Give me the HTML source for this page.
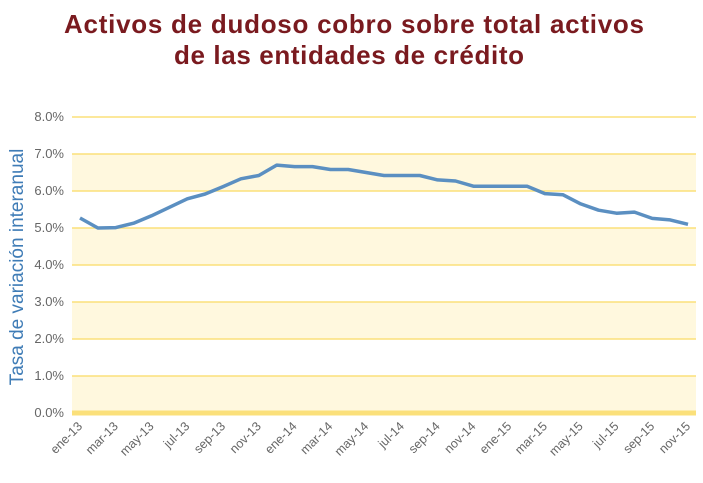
<!DOCTYPE html>
<html><head><meta charset="utf-8"><style>
body{margin:0;background:#fff;width:703px;height:478px;overflow:hidden;font-family:"Liberation Sans",sans-serif}
</style></head><body>
<svg width="703" height="478">
<text x="354" y="33" text-anchor="middle" font-size="26" font-weight="bold" fill="#7a1a1f" textLength="580">Activos de dudoso cobro sobre total activos</text>
<text x="349" y="64" text-anchor="middle" font-size="26" font-weight="bold" fill="#7a1a1f" textLength="350">de las entidades de crédito</text>
<text transform="translate(23,267) rotate(-90)" text-anchor="middle" font-size="19" fill="#3f7cb6">Tasa de variación interanual</text>
<g id="grid"></g><g id="xl"></g>
<path id="line" fill="none" stroke="#5b8fc1" stroke-width="3.5" stroke-linejoin="round"/>
</svg>
<script>
const categories=["ene-13","feb-13","mar-13","abr-13","may-13","jun-13","jul-13","ago-13","sep-13","oct-13","nov-13","dic-13","ene-14","feb-14","mar-14","abr-14","may-14","jun-14","jul-14","ago-14","sep-14","oct-14","nov-14","dic-14","ene-15","feb-15","mar-15","abr-15","may-15","jun-15","jul-15","ago-15","sep-15","oct-15","nov-15"];
const values=[5.27,5.0,5.01,5.13,5.33,5.56,5.79,5.92,6.12,6.33,6.42,6.7,6.66,6.66,6.58,6.58,6.5,6.42,6.42,6.42,6.3,6.27,6.13,6.13,6.13,6.13,5.93,5.9,5.65,5.48,5.4,5.43,5.26,5.22,5.1];
const yTicks=[0,1,2,3,4,5,6,7,8];
const NS="http://www.w3.org/2000/svg";
const x0=72,x1=696,px0=80,px1=688,y0=413,y8=117;
const xs=i=>px0+i*(px1-px0)/(categories.length-1);
const ys=v=>y0-v*(y0-y8)/8;
const g=document.getElementById('grid'),xl=document.getElementById('xl');
function mk(t,a,p){const e=document.createElementNS(NS,t);for(const k in a)e.setAttribute(k,a[k]);p.appendChild(e);return e;}
for(let i=0;i<yTicks.length-1;i++){if(yTicks[i]%2===0){const b=mk('rect',{x:x0,y:ys(yTicks[i]+1),width:x1-x0,height:ys(yTicks[i])-ys(yTicks[i]+1),fill:'#fff8de'},g);

}}
yTicks.forEach(v=>{const l=mk('line',{x1:x0,x2:x1,y1:ys(v),y2:ys(v),stroke:'#fbe07a','stroke-width':v===0?5:1.5},g);


const t=mk('text',{x:64,y:ys(v)+4,'text-anchor':'end','font-size':13,fill:'#666'},g);t.textContent=v.toFixed(1)+'%';

});
categories.forEach((c,i)=>{if(i%2)return;const x=xs(i);const t=mk('text',{x:x+3,y:427,'text-anchor':'end','font-size':12.5,fill:'#666',transform:`rotate(-45 ${x+3} 427)`},xl);t.textContent=c;

});
document.getElementById('line').setAttribute('d',values.map((v,i)=>(i?'L':'M')+xs(i).toFixed(1)+','+ys(v).toFixed(1)).join(''));
</script>
</body></html>
